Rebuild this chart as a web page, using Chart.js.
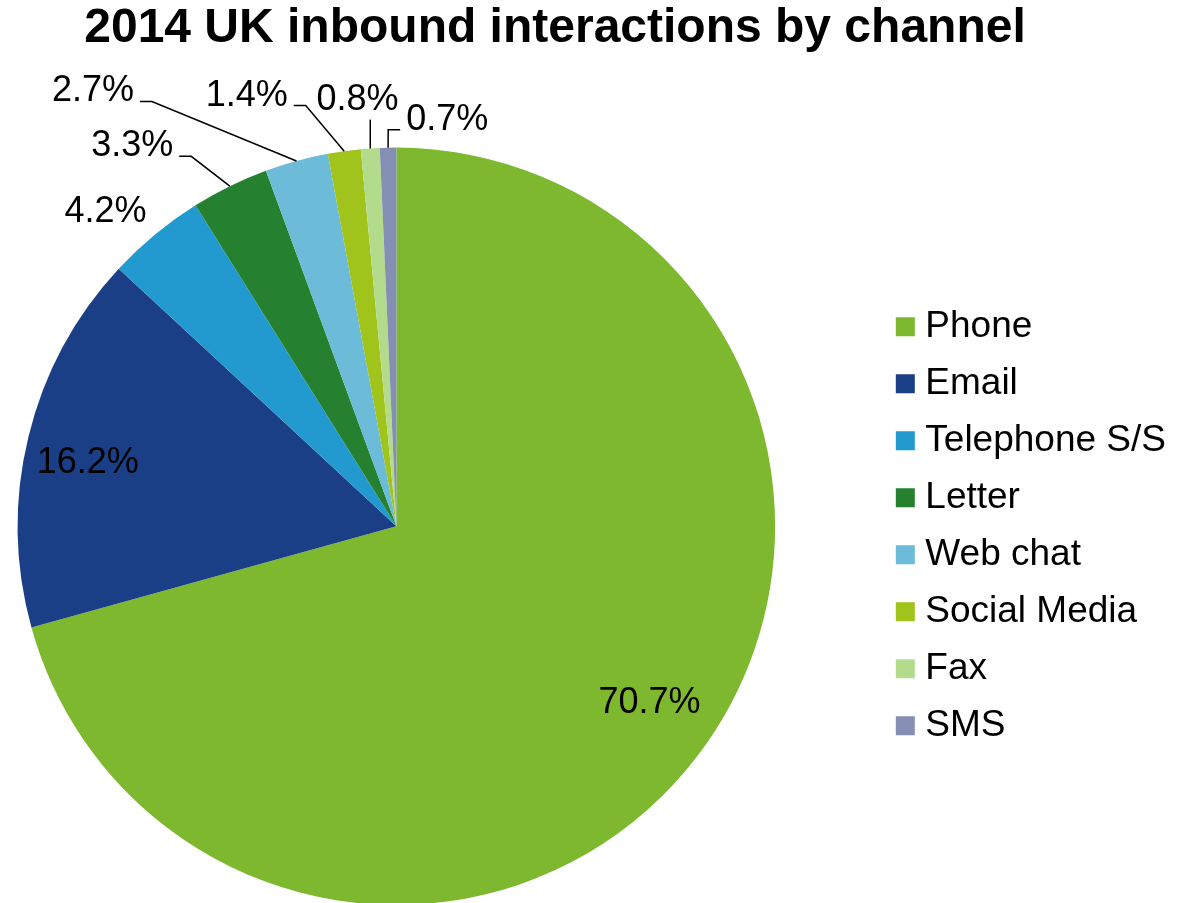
<!DOCTYPE html>
<html>
<head>
<meta charset="utf-8">
<title>2014 UK inbound interactions by channel</title>
<script src="https://cdn.jsdelivr.net/npm/chart.js@4/dist/chart.umd.min.js"></script>
<style>
  html, body { margin: 0; padding: 0; background: #fff; overflow: hidden; }
  #frame { position: relative; width: 1191px; height: 903px; overflow: hidden; }
  /* canvas is a bit wider than the window so the title sits where it does in the original */
  #wrap { position: absolute; left: -91px; top: 0; width: 1292px; height: 905px; }
</style>
</head>
<body>
<div id="frame">
  <div id="wrap"><canvas id="channelChart"></canvas></div>
</div>
<script>
// channels and their share of inbound interactions (%)
const channels = ['Phone', 'Email', 'Telephone S/S', 'Letter', 'Web chat', 'Social Media', 'Fax', 'SMS'];
const shares = [70.7, 16.2, 4.2, 3.3, 2.7, 1.4, 0.8, 0.7];
const colours = ['#7DB82F', '#1B3F87', '#229ACF', '#25802F', '#6BBBD9', '#A1C41C', '#B2DC8C', '#858FB3'];

// which labels sit inside the slice, and small hand nudges (px) like in the original
const insideLabel = [true, true, false, false, false, false, false, false];
const labelNudge = [[6, -11], [-7, 10], [-24, 8], [-80, -4], [-193, -31], [-92, -16], [-10, -9], [60, 12]];

const FONT = '"Liberation Sans", Arial, sans-serif';

// percent labels + leader lines
const sliceLabels = {
  id: 'sliceLabels',
  afterDatasetsDraw(chart) {
    const ctx = chart.ctx;
    const arcs = chart.getDatasetMeta(0).data;
    ctx.save();
    ctx.font = '36px ' + FONT;
    ctx.textAlign = 'center';
    ctx.textBaseline = 'middle';
    ctx.fillStyle = '#000';
    ctx.strokeStyle = '#000';
    ctx.lineWidth = 1.5;
    arcs.forEach((arc, i) => {
      const p = arc.getProps(['x', 'y', 'startAngle', 'endAngle', 'outerRadius'], true);
      const mid = (p.startAngle + p.endAngle) / 2;
      const rr = insideLabel[i] ? p.outerRadius * 0.82 : p.outerRadius + 40;
      const tx = p.x + Math.cos(mid) * rr + labelNudge[i][0];
      const ty = p.y + Math.sin(mid) * rr + labelNudge[i][1];
      const text = shares[i].toFixed(1) + '%';
      ctx.fillText(text, tx, ty);
      if (insideLabel[i]) return;

      // leader from the slice edge to the label
      const px = p.x + Math.cos(mid) * p.outerRadius;
      const py = p.y + Math.sin(mid) * p.outerRadius;
      const w = ctx.measureText(text).width;
      const left = tx - w / 2, right = tx + w / 2, ly = ty + 10;
      ctx.beginPath();
      if (px > right + 20) {
        ctx.moveTo(right + 6, ly);
        ctx.lineTo(right + 18, ly);
        ctx.lineTo(px, py);
      } else if (px < left - 5) {
        ctx.moveTo(left - 6, ly);
        ctx.lineTo(Math.max(px, left - 18), ly);
        ctx.lineTo(px, py);
      } else if (py - (ty + 20) > 20) {
        ctx.moveTo(px, ty + 20);
        ctx.lineTo(px, py);
      }
      ctx.stroke();
    });
    ctx.restore();
  }
};

// empty box to the right of the legend, only takes room
const rightSpacer = {
  id: 'rightSpacer',
  start(chart) {
    Chart.layouts.addBox(chart, {
      position: 'right',
      weight: 5000,
      fullSize: false,
      options: {},
      isHorizontal() { return false; },
      update(maxW, maxH) { this.width = 25; this.height = maxH; },
      draw() {}
    });
  }
};

const pieLabels = (Chart.overrides.pie || Chart.overrides.doughnut).plugins.legend.labels.generateLabels;

new Chart(document.getElementById('channelChart'), {
  type: 'pie',
  data: {
    labels: channels,
    datasets: [{
      data: shares,
      backgroundColor: colours,
      borderWidth: 0
    }]
  },
  options: {
    responsive: true,
    maintainAspectRatio: false,
    animation: false,
    layout: { padding: 0 },
    plugins: {
      title: {
        display: true,
        text: '2014 UK inbound interactions by channel',
        color: '#000',
        font: { family: FONT, size: 48, weight: 'bold' },
        padding: { top: 0, bottom: 90 }
      },
      legend: {
        position: 'right',
        fullSize: false,
        labels: {
          color: '#000',
          font: { family: FONT, size: 37 },
          boxWidth: 3,
          boxHeight: 3,
          padding: 20,
          generateLabels(chart) {
            const items = pieLabels(chart);
            items.forEach(it => {
              it.lineWidth = 16;
              it.strokeStyle = it.fillStyle;
            });
            return items;
          }
        }
      },
      tooltip: { enabled: false }
    }
  },
  plugins: [sliceLabels, rightSpacer]
});
</script>
</body>
</html>
